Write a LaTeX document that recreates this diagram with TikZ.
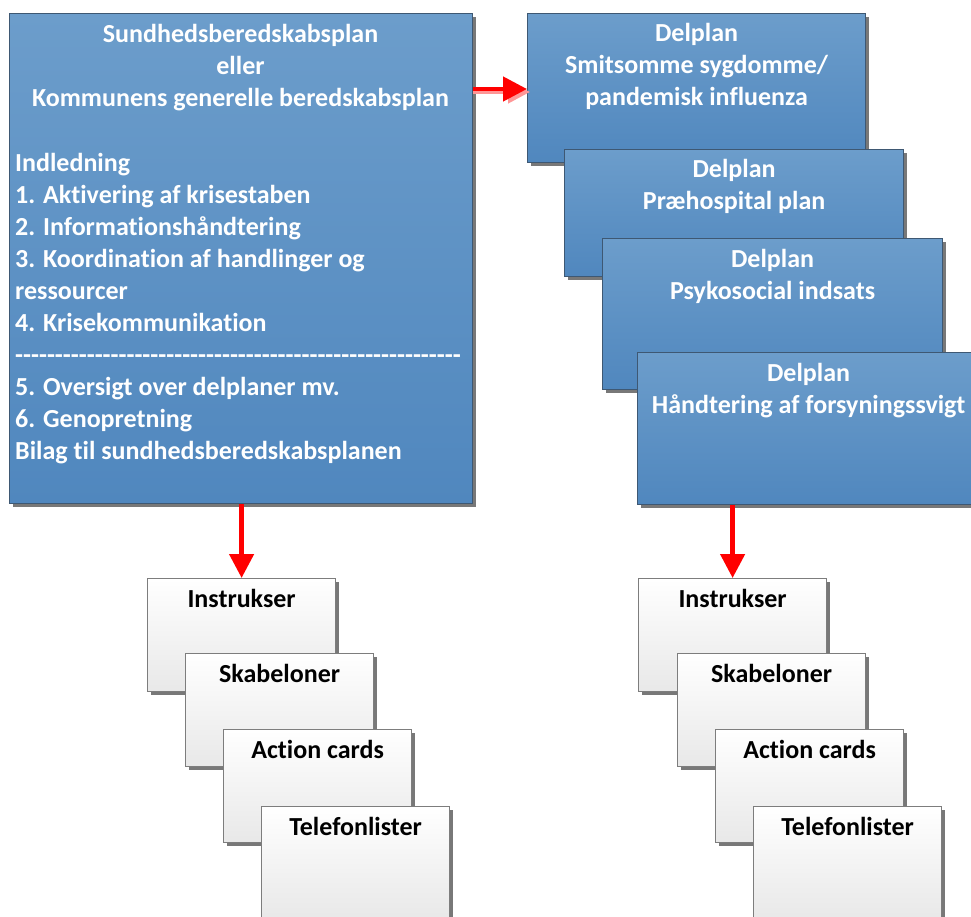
\documentclass[tikz,border=0pt]{standalone}
\usepackage{fontspec}
\newfontfamily\calibri{Carlito}[Ligatures={NoCommon,NoDiscretionary,NoContextual}]
\usetikzlibrary{shadows,arrows.meta,calc}
\definecolor{bluetop}{RGB}{108,157,203}
\definecolor{bluebot}{RGB}{80,135,190}
\definecolor{blueedge}{RGB}{62,88,115}
\definecolor{cardedge}{RGB}{125,125,125}
\definecolor{cardbot}{RGB}{232,232,232}
\definecolor{shadowgray}{RGB}{120,120,120}
\definecolor{arrowred}{RGB}{255,0,0}
\definecolor{arrowpink}{RGB}{255,150,150}
\tikzset{
  bluebox/.style={draw=blueedge, line width=1.2pt, top color=bluetop, bottom color=bluebot,
    anchor=north west, inner sep=0pt,
    drop shadow={shadow xshift=3.5pt, shadow yshift=-3.5pt, fill=shadowgray, opacity=1}},
  cardbox/.style={draw=cardedge, line width=1.2pt, top color=white, bottom color=cardbot,
    anchor=north west, inner sep=0pt, minimum width=188pt, minimum height=113pt,
    drop shadow={shadow xshift=3.5pt, shadow yshift=-3.5pt, fill=shadowgray, opacity=1}},
  bluetext/.style={text=white, font=\calibri\fontsize{26}{32}\selectfont\bfseries, inner sep=0pt, anchor=base},
  cardtext/.style={text=black, font=\calibri\fontsize{26}{32}\selectfont\bfseries, inner sep=0pt, anchor=base},
  redarrow/.style={draw=arrowred, line width=4.5pt, -{Triangle[length=24pt,width=24pt]}},
  pinkarrow/.style={draw=arrowpink, line width=4.5pt, -{Triangle[length=22pt,width=22pt]}},
}
\begin{document}
\begin{tikzpicture}[x=1pt,y=-1pt]
\useasboundingbox (0,0) rectangle (971,917);
\begin{scope}
\clip (0,0) rectangle (971,917);
% main box (anchor base = last line)
\node[bluebox, minimum width=463pt, minimum height=490pt] (main) at (9,13) {};
\node[bluetext, align=center] (title) at (240.5,107) {Sundhedsberedskabsplan\\eller\\Kommunens generelle beredskabsplan};
\node[bluetext, align=left, anchor=base west] (items) at (15,459) {Indledning\\
1. Aktivering af krisestaben\\
2. Informationshåndtering\\
3. Koordination af handlinger og\\
ressourcer\\
4. Krisekommunikation\\
--------------------------------------------------------\\
5. Oversigt over delplaner mv.\\
6. Genopretning\\
Bilag til sundhedsberedskabsplanen};
% delplans
\node[bluebox, minimum width=338pt, minimum height=149pt] (d1) at (527,13) {};
\node[bluetext, align=center] (d1t) at ($(d1.north)+(0,93)$) {Delplan\\Smitsomme sygdomme/\\pandemisk influenza};
\node[bluebox, minimum width=339pt, minimum height=127pt] (d2) at (564,149) {};
\node[bluetext, align=center] (d2t) at ($(d2.north)+(0,61)$) {Delplan\\Præhospital plan};
\node[bluebox, minimum width=340pt, minimum height=151pt] (d3) at (602,238) {};
\node[bluetext, align=center] (d3t) at ($(d3.north)+(0,61)$) {Delplan\\Psykosocial indsats};
\node[bluebox, minimum width=342pt, minimum height=152pt] (d4) at (637,352) {};
\node[bluetext, align=center] (d4t) at ($(d4.north)+(0,61)$) {Delplan\\Håndtering af forsyningssvigt};
% left cards
\node[cardbox] (l1) at (147,578) {};
\node[cardtext] (l1t) at ($(l1.north)+(0,29)$) {Instrukser};
\node[cardbox] (l2) at (185,653) {};
\node[cardtext] (l2t) at ($(l2.north)+(0,29)$) {Skabeloner};
\node[cardbox] (l3) at (223,729) {};
\node[cardtext] (l3t) at ($(l3.north)+(0,29)$) {Action cards};
\node[cardbox] (l4) at (261,806) {};
\node[cardtext] (l4t) at ($(l4.north)+(0,29)$) {Telefonlister};
% right cards
\node[cardbox] (r1) at (638,578) {};
\node[cardtext] (r1t) at ($(r1.north)+(0,29)$) {Instrukser};
\node[cardbox] (r2) at (677,653) {};
\node[cardtext] (r2t) at ($(r2.north)+(0,29)$) {Skabeloner};
\node[cardbox] (r3) at (715,729) {};
\node[cardtext] (r3t) at ($(r3.north)+(0,29)$) {Action cards};
\node[cardbox] (r4) at (753,806) {};
\node[cardtext] (r4t) at ($(r4.north)+(0,29)$) {Telefonlister};
% arrows
\coordinate (hs) at ($(main.north east)+(0,76)$);
\coordinate (he) at ($(d1.north west)+(0,76)$);
\draw[pinkarrow] ($(hs)+(0,3)$) -- ($(he)+(3,3)$);
\draw[redarrow] (hs) -- (he);
\draw[redarrow] (main.south -| l1.north) -- (l1.north);
\draw[redarrow] (d4.south -| r1.north) -- (r1.north);
\end{scope}
\end{tikzpicture}
\end{document}
